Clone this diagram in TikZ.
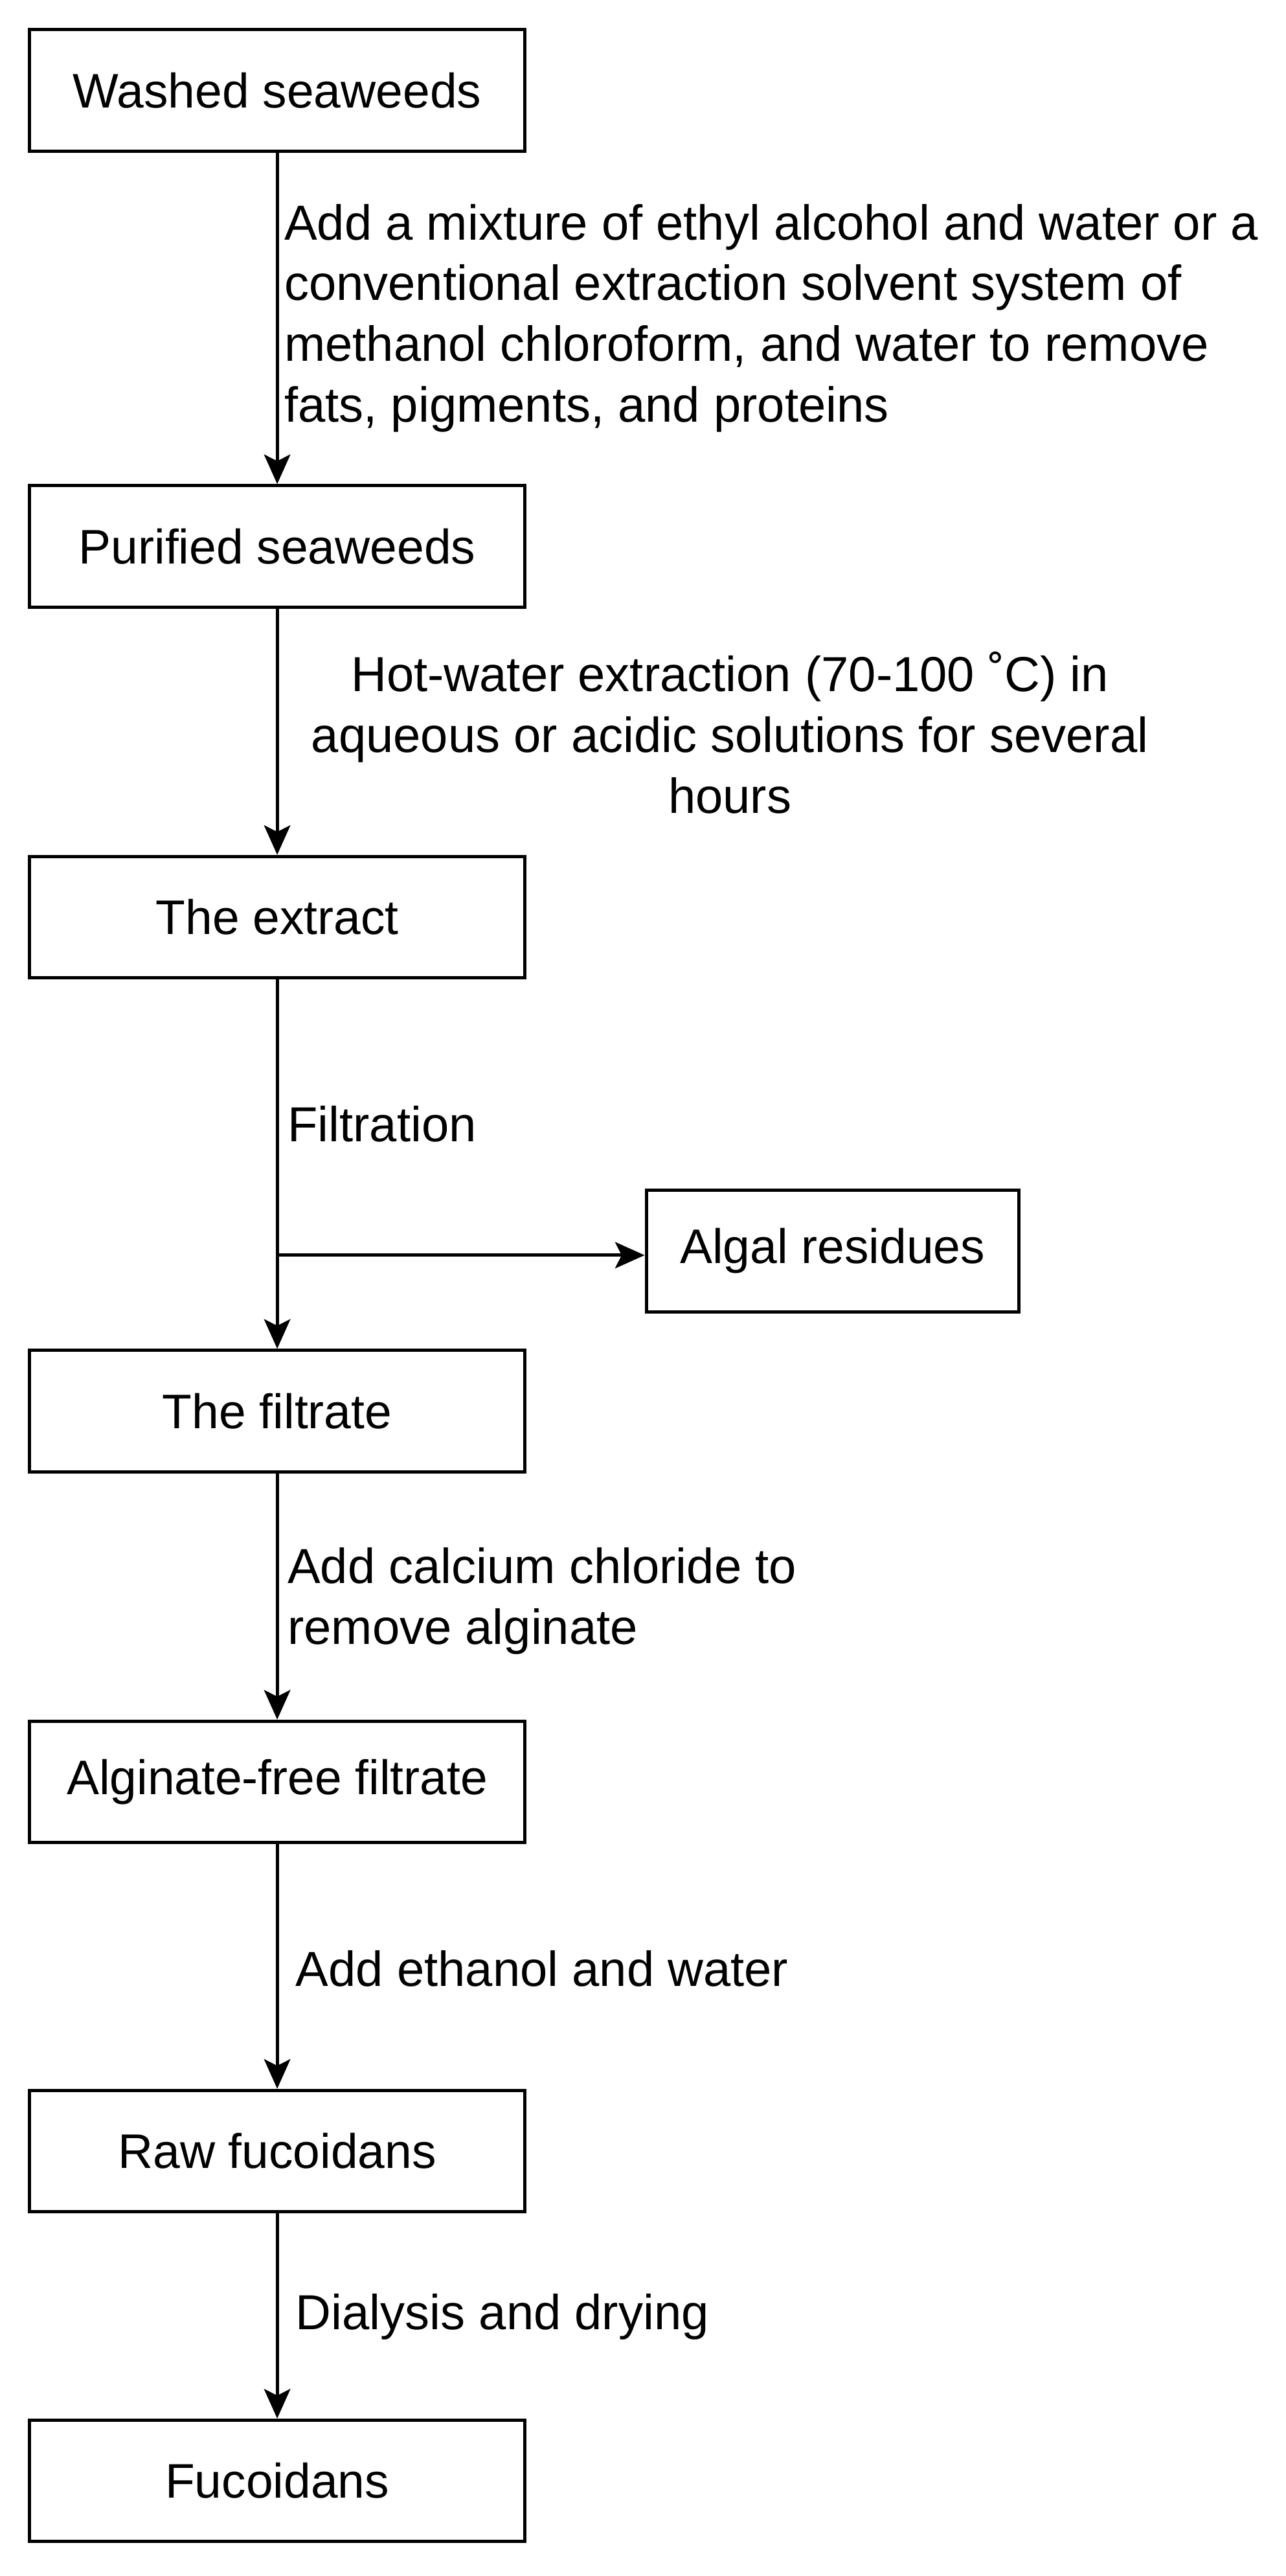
\documentclass[tikz,border=0pt]{standalone}
\usepackage{fontspec}
\setmainfont{Liberation Sans}
\usetikzlibrary{arrows.meta}
\begin{document}
\begin{tikzpicture}[x=0.5pt,y=-0.5pt,
  box/.style={draw,line width=1pt,minimum width=151pt,minimum height=37pt,inner sep=0pt,font=\fontsize{14.8}{18}\selectfont},
  lbl/.style={inner sep=0pt,font=\fontsize{15}{18.5}\selectfont},
  arr/.style={line width=1pt,-{Stealth[length=9pt,width=8pt,inset=2pt]}}]
\useasboundingbox (0,0) rectangle (784,1570);
\node[box] (b1) at (169,55) {Washed seaweeds};
\node[box] (b2) at (169,333) {Purified seaweeds};
\node[box] (b3) at (169,559) {The extract};
\node[box,minimum width=113.5pt] (alg) at (507.5,762.5) {Algal residues};
\node[box] (b4) at (169,860) {The filtrate};
\node[box] (b5) at (169,1086) {Alginate-free filtrate};
\node[box] (b6) at (169,1311) {Raw fucoidans};
\node[box] (b7) at (169,1512) {Fucoidans};
\coordinate (j) at (169,765);
\draw[arr] (b1) -- (b2);
\draw[arr] (b2) -- (b3);
\draw[line width=1pt] (b3) -- (j);
\draw[arr] (j) -- (b4);
\draw[arr] (j) -- (alg.west|-j);
\draw[arr] (b4) -- (b5);
\draw[arr] (b5) -- (b6);
\draw[arr] (b6) -- (b7);
\node[lbl,anchor=north west,align=left] (l1) at (173,124) {Add a mixture of ethyl alcohol and water or a\\conventional extraction solvent system of\\methanol chloroform, and water to remove\\fats, pigments, and proteins};
\node[lbl,anchor=north,align=center] (l2) at (445,397) {Hot-water extraction (70-100 ˚C) in\\aqueous or acidic solutions for several\\hours};
\node[lbl,anchor=west] (l3) at (175,685) {Filtration};
\node[lbl,anchor=north west,align=left] (l4) at (175,943) {Add calcium chloride to\\remove alginate};
\node[lbl,anchor=west] (l5) at (180,1200) {Add ethanol and water};
\node[lbl,anchor=west] (l6) at (180,1412) {Dialysis and drying};
\end{tikzpicture}
\end{document}
